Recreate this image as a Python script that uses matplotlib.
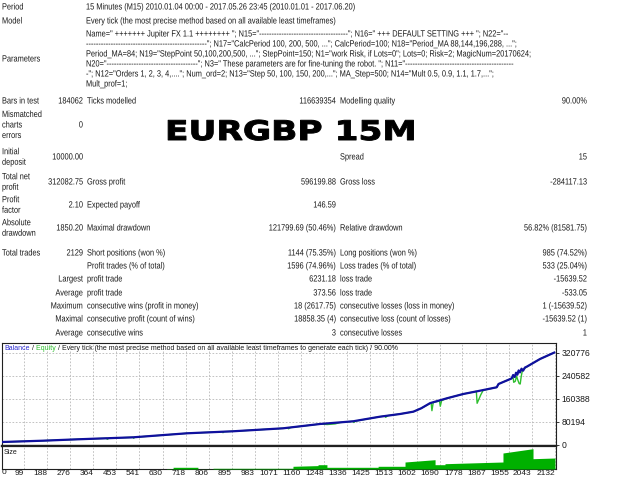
import matplotlib
matplotlib.use("Agg")
import matplotlib.pyplot as plt
import matplotlib.patheffects as pe
from matplotlib.transforms import Affine2D
from matplotlib import font_manager as fm

# ---------------- data ----------------
header_labels = ["Period", "Model"]
header_values = [
    "15 Minutes (M15) 2010.01.04 00:00 - 2017.05.26 23:45 (2010.01.01 - 2017.06.20)",
    "Every tick (the most precise method based on all available least timeframes)",
]
param_label = "Parameters"
param_lines = [
    'Name=" +++++++ Jupiter FX 1.1 ++++++++ "; N15="' + "-" * 36
    + '"; N16=" +++ DEFAULT SETTING +++ "; N22="--',
    "-" * 49 + '"; N17="CalcPeriod 100, 200, 500, ..."; CalcPeriod=100; N18="Period_MA 88,144,196,288, ...";',
    'Period_MA=84; N19="StepPoint 50,100,200,500, ..."; StepPoint=150; N1="work Risk, if Lots=0"; Lots=0; Risk=2; MagicNum=20170624;',
    'N20="' + "-" * 37 + '"; N3=" These parameters are for fine-tuning the robot. "; N11="' + "-" * 44,
    '-"; N12="Orders 1, 2, 3, 4,...."; Num_ord=2; N13="Step 50, 100, 150, 200,..."; MA_Step=500; N14="Mult 0.5, 0.9, 1.1, 1.7,...";',
    "Mult_prof=1;",
]
big_title = "EURGBP 15M"

stat_l1 = ["Bars in test", "Mismatched\ncharts\nerrors", "Initial\ndeposit", "Total net\nprofit",
           "Profit\nfactor", "Absolute\ndrawdown"]
stat_v1 = ["184062", "0", "10000.00", "312082.75", "2.10", "1850.20"]
stat_l2 = ["Ticks modelled", "", "", "Gross profit", "Expected payoff", "Maximal drawdown"]
stat_v2 = ["116639354", "", "", "596199.88", "146.59", "121799.69 (50.46%)"]
stat_l3 = ["Modelling quality", "", "Spread", "Gross loss", "", "Relative drawdown"]
stat_v3 = ["90.00%", "", "15", "-284117.13", "", "56.82% (81581.75)"]

tr_l1 = ["Total trades", "", "", "", "", "", ""]
tr_v1 = ["2129", "", "Largest", "Average", "Maximum", "Maximal", "Average"]
tr_l2 = ["Short positions (won %)", "Profit trades (% of total)", "profit trade", "profit trade",
         "consecutive wins (profit in money)", "consecutive profit (count of wins)", "consecutive wins"]
tr_v2 = ["1144 (75.35%)", "1596 (74.96%)", "6231.18", "373.56", "18 (2617.75)", "18858.35 (4)", "3"]
tr_l3 = ["Long positions (won %)", "Loss trades (% of total)", "loss trade", "loss trade",
         "consecutive losses (loss in money)", "consecutive loss (count of losses)", "consecutive losses"]
tr_v3 = ["985 (74.52%)", "533 (25.04%)", "-15639.52", "-533.05", "1 (-15639.52)", "-15639.52 (1)", "1"]

chart_title_parts = ["Balance", " /", " Equity",
                     " / Every tick (the most precise method based on all available least timeframes to generate each tick) / 90.00%"]
size_label = "Size"

x_ticks = [0, 99, 188, 276, 364, 453, 541, 630, 718, 806, 895, 983, 1071, 1160, 1248, 1336,
           1425, 1513, 1602, 1690, 1778, 1867, 1955, 2043, 2132]
y_ticks = [0, 80194, 160388, 240582, 320776]

bal_trade = [0, 172, 306, 517, 723, 899, 1091, 1232, 1359, 1462, 1539, 1590, 1620, 1654, 1718,
             1781, 1845, 1909, 1916, 1966, 1972, 1978, 1983, 1988, 1993, 1998, 2004, 2010, 2017,
             2024, 2075, 2129]
bal_value = [10000, 15000, 19900, 26800, 40800, 47800, 58200, 73200, 82600, 98700, 108100, 116200,
             128000, 146000, 162800, 177800, 189300, 201200, 212700, 232000, 244000, 237000, 252000,
             245000, 260000, 253000, 266000, 259000, 270000, 273000, 299900, 322083]

eq_trade = [0, 172, 306, 415, 418, 425, 517, 519, 523, 723, 858, 861, 866, 899, 1091, 1108, 1112,
            1120, 1232, 1260, 1290, 1310, 1359, 1362, 1368, 1462, 1480, 1484, 1492, 1539, 1590,
            1620, 1658, 1661, 1666, 1690, 1693, 1698, 1718, 1781, 1831, 1834, 1840, 1848, 1857,
            1909, 1916, 1966, 1972, 1974, 1980, 1985, 1990, 1995, 1999, 2003, 2008, 2024, 2075, 2129]
eq_value = [10000, 15000, 19900, 23400, 20000, 23800, 26800, 23500, 27000, 40800, 46200, 43000,
            46500, 47800, 58200, 60000, 56500, 61000, 73200, 71500, 73500, 78500, 82600, 78500,
            83300, 98700, 101000, 96500, 102500, 108100, 116200, 128000, 147000, 119600, 148500,
            153000, 135000, 154500, 162800, 177800, 187000, 145400, 158000, 175000, 190500, 201200,
            212700, 232000, 236000, 218600, 222000, 240000, 226000, 214000, 212700, 240000, 262000,
            272500, 299900, 322083]

size_trade = [645, 645, 670, 670, 765, 765, 823, 823, 1129, 1129, 1225, 1225, 1259, 1259, 1455,
              1455, 1558, 1558, 1673, 1673, 1711, 1711, 1933, 1933, 2048, 2048, 2132]
size_lots = [0, 0.15, 0.15, 0.85, 0.85, 0.05, 0.05, 0.35, 0.35, 1.35, 1.7, 2.15, 2.15, 0.85, 0.85,
             1.35, 1.35, 3.5, 4.65, 2.15, 2.15, 2.65, 3.5, 8.0, 10.15, 5.15, 5.5]

# ---------------- style / layout ----------------
W, H = 640, 480
names = {f.name for f in fm.fontManager.ttflist}
if "Liberation Sans Narrow" in names:
    SMALL, SQ = "Liberation Sans Narrow", 1.0
else:
    SMALL, SQ = "Liberation Sans", 0.82
FS = 6.5
FS_T = 5.0
TXT = "#1a1a1a"
BAL_C = "#10109e"
BAL_T = "#2a2ad0"
EQ_C = "#2fbf2f"
SIZE_C = "#00b000"


class StretchX(pe.AbstractPathEffect):
    def __init__(self, sx, anchor="left", stroke=0.0):
        super().__init__()
        self.sx, self.anchor, self.stroke = sx, anchor, stroke

    def draw_path(self, renderer, gc, tpath, affine, rgbFace=None):
        v = tpath.vertices
        w = 0.0
        if len(v):
            if self.anchor == "right":
                w = v[:, 0].max()
            elif self.anchor == "center":
                w = 0.5 * (v[:, 0].max() + v[:, 0].min())
        t = Affine2D().translate(-w, 0).scale(self.sx, 1.0).translate(w, 0) + affine
        gc0 = renderer.new_gc()
        gc0.copy_properties(gc)
        if self.stroke > 0:
            gc0.set_linewidth(self.stroke)
        renderer.draw_path(gc0, tpath, t, rgbFace)
        gc0.restore()


def fx(x):
    return x / W


def fy(y):
    return 1 - y / H


fig = plt.figure(figsize=(6.4, 4.8), dpi=100)
fig.patch.set_facecolor("white")
renderer = fig.canvas.get_renderer()


def T(x, y, s, ha="left", step=10.5, **kw):
    if not s:
        return None
    lines = s.split("\n")
    n = len(lines)
    t = None
    for i, line in enumerate(lines):
        yy = y + (i - (n - 1) / 2) * step
        effects = [StretchX(SQ, ha)] if SQ != 1.0 else None
        t = fig.text(fx(x), fy(yy), line, ha=ha, va="center", fontsize=FS, family=SMALL,
                     color=TXT, path_effects=effects, **kw)
    return t


L1, V1, L2, V2, L3, V3 = 2, 83, 87, 336, 340, 587

for lab, val, y in zip(header_labels, header_values, [7, 21]):
    T(L1, y, lab)
    T(L2 - 1, y, val)
T(L1, 59, param_label)
for i, line in enumerate(param_lines):
    T(L2 - 1, 34 + 10 * i, line)

stat_y = [101, 125, 157, 182, 205, 228]
for i, y in enumerate(stat_y):
    T(L1, y, stat_l1[i], step=10.5)
    T(V1, y, stat_v1[i], ha="right")
    T(L2, y, stat_l2[i])
    T(V2, y, stat_v2[i], ha="right")
    T(L3, y, stat_l3[i])
    T(V3, y, stat_v3[i], ha="right")

tr_y = [253, 266, 279, 293, 306, 319, 333]
for i, y in enumerate(tr_y):
    T(L1, y, tr_l1[i])
    T(V1, y, tr_v1[i], ha="right")
    T(L2, y, tr_l2[i])
    T(V2, y, tr_v2[i], ha="right")
    T(L3, y, tr_l3[i])
    T(V3, y, tr_v3[i], ha="right")

fig.text(fx(165), fy(140), big_title, ha="left", va="baseline", fontsize=19.5,
         family="DejaVu Sans", weight="bold", color="black",
         path_effects=[StretchX(1.27, "left", stroke=0.7)])

# ---------------- chart ----------------
XL = (15, 2136)
ax = fig.add_axes([fx(2), fy(446), fx(556) - fx(2), fy(343) - fy(446)])
axs = fig.add_axes([fx(2), fy(469), fx(556) - fx(2), fy(446) - fy(469)])

ax.plot(eq_trade, eq_value, color=EQ_C, lw=1.0, zorder=3)
ax.plot(bal_trade, bal_value, color=BAL_C, lw=1.6, zorder=4)
ax.set_xlim(*XL)
ax.set_ylim(-3487, 355600)
ax.set_xticks(x_ticks[1:])
ax.set_xticklabels([])
ax.tick_params(axis="x", length=0)
ax.yaxis.tick_right()
ax.set_yticks(y_ticks)
ax.set_yticklabels([str(v) for v in y_ticks])
ax.tick_params(axis="y", direction="out", length=2.5, width=0.6, pad=1.5,
               labelsize=FS - 0.3, colors=TXT)
for lab in ax.get_yticklabels():
    lab.set_family(SMALL)
ax.grid(True, ls=(0, (2, 2)), color="#b8b8b8", lw=0.6)
for s in ax.spines.values():
    s.set_color("#202020")
    s.set_linewidth(0.8)
ax.spines["bottom"].set_linewidth(1.6)

axs.fill_between(size_trade, 0, size_lots, color=SIZE_C, lw=0, zorder=3)
axs.set_xlim(*XL)
axs.set_ylim(0, 11.5)
axs.set_yticks([])
axs.set_xticks(x_ticks[1:])
axs.set_xticklabels([str(v) for v in x_ticks[1:]])
axs.tick_params(axis="x", direction="out", length=0, width=0.6, pad=0.8,
                labelsize=FS - 0.5, colors=TXT)
for lab in axs.get_xticklabels():
    lab.set_ha("right")
    lab.set_family(SMALL)
axs.text(XL[0], 0, str(x_ticks[0]), transform=axs.get_xaxis_transform(), ha="left",
         va="top", fontsize=FS - 0.5, family=SMALL, color=TXT)
axs.grid(True, axis="x", ls=(0, (2, 2)), color="#b8b8b8", lw=0.6)
for s in axs.spines.values():
    s.set_color("#202020")
    s.set_linewidth(0.8)
axs.spines["top"].set_linewidth(1.6)

# chart title with coloured parts, laid out one after another
title_colors = [BAL_T, TXT, EQ_C, TXT]
xpos = 4.0
for part, col in zip(chart_title_parts, title_colors):
    t = fig.text(fx(xpos), fy(349), part, ha="left", va="center", fontsize=FS_T,
                 family=SMALL, color=col)
    xpos += t.get_window_extent(renderer).width + 0.3

fig.text(fx(4), fy(453), size_label, ha="left", va="center", fontsize=FS_T,
         family=SMALL, color=TXT)

fig.savefig("out.png", dpi=100, facecolor="white")
